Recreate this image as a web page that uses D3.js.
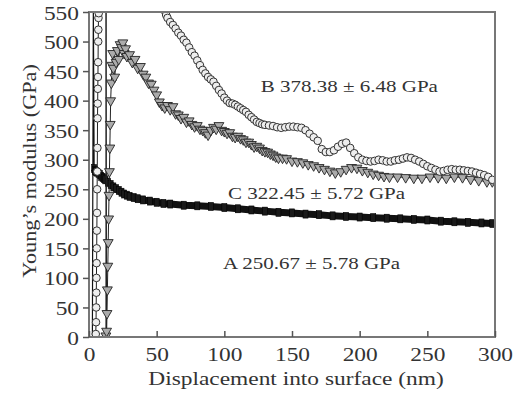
<!DOCTYPE html>
<html><head><meta charset="utf-8">
<script src="https://cdn.jsdelivr.net/npm/d3@7"></script>
<style>body{margin:0;background:#fff}svg{display:block}text{font-family:"Liberation Serif","Times New Roman",serif;fill:#333}</style>
</head><body><svg id="c" width="521" height="394"></svg>
<script>
const xTicks=[0,50,100,150,200,250,300];
const yTicks=[0,50,100,150,200,250,300,350,400,450,500,550];
const seriesA=[[2.5,3],[3.2,560],[3.8,285],[4.5,282],[5,280],[6,279],[7,277],[8,275],[9,272],[10,270],[11,268],[12,266],[14,262],[16,258],[18,254],[20,251],[22,248],[24,245],[26,242],[28,240],[30,238],[33,236],[36,234],[40,232],[45,230],[50,228],[55,226],[60,225],[70,223],[80,222],[90,221],[100,219],[110,217],[120,215],[130,213],[140,211],[150,210],[160,208],[170,207],[180,205],[190,204],[200,203],[210,202],[220,201],[230,200],[240,199],[250,198],[260,196],[270,195],[280,194],[290,193],[298,192]];
const seriesB=[[5.0,5],[5.2,25],[5.3,50],[5.4,75],[5.5,100],[5.6,125],[5.7,150],[5.8,180],[5.9,210],[6,250],[6.1,280],[6.2,320],[6.3,370],[6.4,395],[6.5,420],[6.6,440],[6.7,465],[6.8,500],[6.9,520],[7,540],[7.2,548],[7.5,600],[55,600],[56,552],[57,545],[58,540],[60,533],[62,528],[64,522],[66,515],[68,510],[70,503],[72,498],[74,490],[76,482],[78,476],[80,468],[82,460],[84,452],[86,446],[88,440],[90,436],[92,432],[94,425],[96,418],[98,412],[100,405],[102,400],[104,396],[106,395],[108,393],[110,390],[112,387],[114,384],[116,381],[118,376],[120,372],[122,368],[124,364],[126,362],[128,360],[130,359],[133,358],[136,357],[139,355],[142,354],[145,355],[148,356],[151,356],[154,355],[157,354],[160,350],[163,344],[166,338],[169,332],[172,318],[175,313],[178,313],[181,316],[184,322],[187,327],[190,329],[193,320],[196,311],[199,304],[202,300],[205,298],[208,297],[211,298],[214,300],[217,299],[220,297],[223,297],[226,299],[229,300],[232,302],[235,304],[238,303],[241,300],[244,297],[247,293],[250,289],[253,286],[256,283],[259,280],[262,281],[265,283],[268,284],[271,283],[274,283],[277,282],[280,281],[283,280],[286,278],[289,276],[292,274],[295,271],[298,266]];
const seriesC=[[12.5,2],[12.6,560],[13,10],[13.3,40],[13.6,80],[13.9,120],[14.2,160],[14.5,200],[14.8,240],[15.1,280],[15.4,320],[15.7,360],[16,400],[16.5,430],[17,460],[17.5,480],[18,455],[19,440],[20,465],[21,485],[22,470],[23,495],[24,490],[25,498],[26,480],[27,488],[28,475],[30,478],[32,465],[34,470],[36,455],[38,458],[40,445],[42,440],[44,430],[46,428],[48,418],[50,410],[52,398],[54,392],[56,388],[58,392],[60,385],[62,390],[64,378],[66,376],[68,370],[70,372],[72,364],[74,366],[76,360],[78,356],[80,358],[82,352],[84,350],[86,346],[88,342],[90,350],[92,355],[94,352],[96,358],[98,350],[100,348],[102,345],[104,346],[106,340],[108,338],[110,340],[112,336],[114,334],[116,330],[118,330],[120,326],[122,322],[124,323],[126,320],[128,316],[130,314],[132,313],[134,310],[136,308],[138,305],[140,303],[143,303],[146,302],[150,298],[154,297],[158,295],[162,292],[166,290],[170,287],[174,284],[178,281],[182,278],[186,280],[190,284],[194,287],[198,286],[202,282],[206,279],[210,276],[214,274],[218,272],[222,271],[228,271],[234,270],[240,269],[246,269],[252,271],[258,270],[264,269],[270,271],[276,270],[282,267],[288,265],[294,263],[298,263]];
const labels=[{t:"B 378.38 \u00b1 6.48 GPa",x:127,y:415},{t:"C 322.45 \u00b1 5.72 GPa",x:102.7,y:234},{t:"A 250.67 \u00b1 5.78 GPa",x:99,y:115}];

const svg=d3.select("#c");
const m={l:89,r:495,t:12,b:337};
const SX=1.2;
const x=d3.scaleLinear().domain([0,300]).range([m.l,m.r]);
const y=d3.scaleLinear().domain([0,550]).range([m.b,m.t]);

svg.append("clipPath").attr("id","clip").append("rect").attr("x",m.l).attr("y",m.t).attr("width",m.r-m.l).attr("height",m.b-m.t);
const g=svg.append("g").attr("clip-path","url(#clip)");
const line=d3.line().x(d=>x(d[0])).y(d=>y(d[1]));

// A
g.append("path").datum(seriesA).attr("d",line).attr("fill","none").attr("stroke","#111").attr("stroke-width",1.2);
g.append("path").datum(seriesA.filter(d=>d[0]>=3.8)).attr("d",line).attr("fill","none").attr("stroke","#111").attr("stroke-width",7);
g.selectAll(".a").data(seriesA.filter(d=>d[0]>=3.8)).join("rect").attr("x",d=>x(d[0])-2.5).attr("y",d=>y(d[1])-4).attr("width",5).attr("height",8).attr("fill","#1a1a1a").attr("stroke","#000").attr("stroke-width",0.6);

// C triangles
g.append("path").datum(seriesC).attr("d",line).attr("fill","none").attr("stroke","#222").attr("stroke-width",1);
const tri=d3.symbol().type(d3.symbolTriangle).size(42);
g.selectAll(".c").data(seriesC).join("path").attr("d",tri).attr("transform",d=>`translate(${x(d[0])},${y(d[1])}) rotate(180)`).attr("fill","#ababab").attr("stroke","#222").attr("stroke-width",0.9);

// B circles
g.append("path").datum(seriesB).attr("d",line).attr("fill","none").attr("stroke","#222").attr("stroke-width",1);
g.selectAll(".b").data(seriesB).join("circle").attr("cx",d=>x(d[0])).attr("cy",d=>y(d[1])).attr("r",3.8).attr("fill","#eeeeee").attr("stroke","#333").attr("stroke-width",1);

// frame
svg.append("rect").attr("x",m.l).attr("y",m.t).attr("width",m.r-m.l).attr("height",m.b-m.t).attr("fill","none").attr("stroke","#777").attr("stroke-width",2);

// axes
const ya=svg.append("g").attr("transform",`translate(${m.l},0)`).call(d3.axisLeft(y).tickValues(yTicks).tickSize(6).tickPadding(4));
ya.select(".domain").remove();
ya.selectAll("line").attr("stroke","#555").attr("stroke-width",1.5);
ya.selectAll("text").style("font-size","19.5px").attr("fill","#333").attr("dy","0.36em").attr("x",-10/SX).attr("transform",`scale(${SX},1)`);
const xa=svg.append("g").attr("transform",`translate(0,${m.b})`).call(d3.axisBottom(x).tickValues(xTicks).tickSize(-6).tickPadding(10));
xa.select(".domain").remove();
xa.selectAll("line").attr("stroke","#555").attr("stroke-width",1.5);
xa.selectAll("text").style("font-size","19.5px").attr("fill","#333").attr("transform",`scale(${SX},1)`);

svg.append("text").attr("transform",`translate(296,385) scale(${SX},1)`).attr("text-anchor","middle").style("font-size","19.5px").text("Displacement into surface (nm)");
svg.append("text").attr("transform",`translate(36,171) rotate(-90) scale(1.17,1)`).attr("text-anchor","middle").style("font-size","19px").text("Young\u2019s modulus (GPa)");

svg.selectAll(".lab").data(labels).join("text").attr("transform",d=>`translate(${x(d.x)},${y(d.y)}) scale(${SX},1)`).style("font-size","17.5px").text(d=>d.t);
</script></body></html>
